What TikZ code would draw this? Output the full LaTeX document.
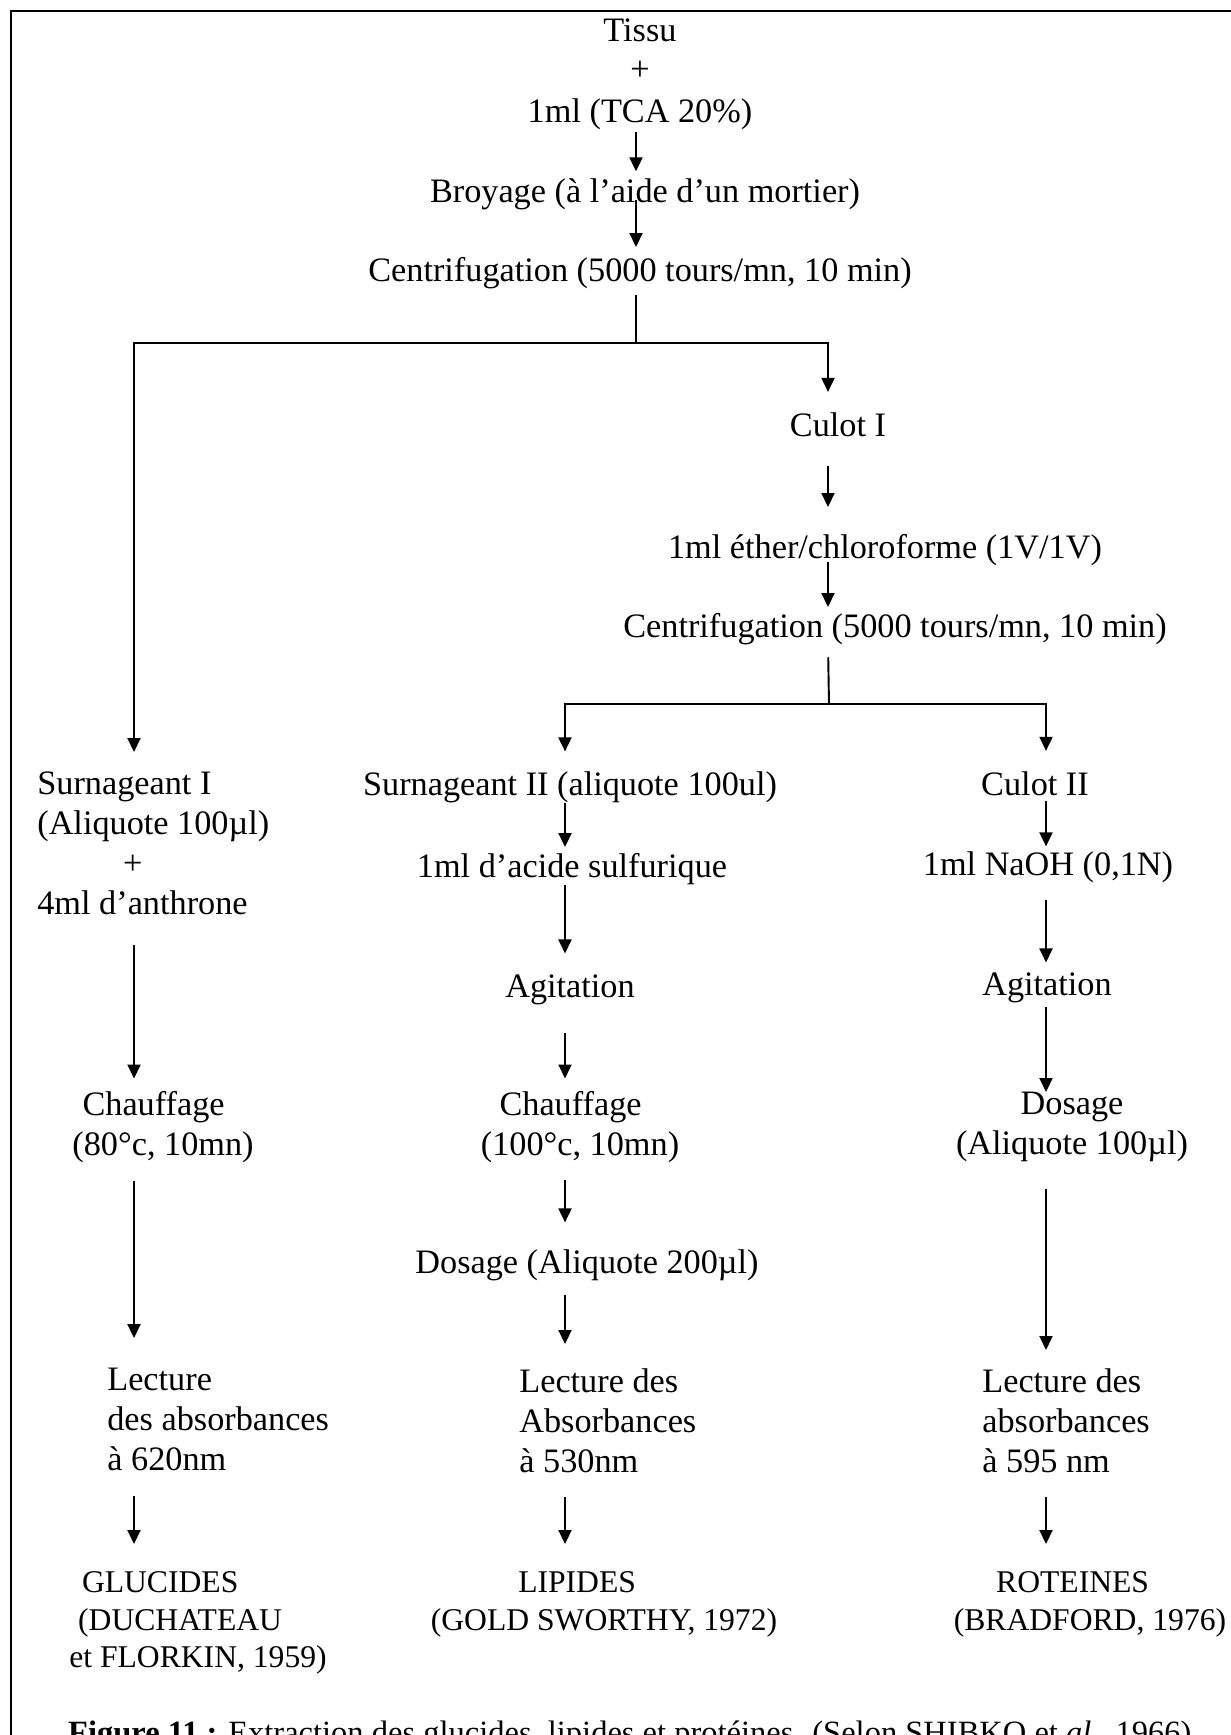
\documentclass[tikz,border=0pt]{standalone}
\usepackage{fontspec}
\setmainfont{Liberation Serif}
\usetikzlibrary{arrows.meta}
\tikzset{
	txt/.style={inner sep=0pt, font=\fontsize{19.5}{22.8}\selectfont},
	etape/.style={txt, anchor=base},
	bloc/.style={txt, align=center, anchor=north},
	blocg/.style={txt, align=left, anchor=north west},
	resultat/.style={font=\fontsize{18}{21.5}\selectfont},
	lien/.style={line width=1.1pt},
	fleche/.style={line width=1.1pt, -{Triangle[width=0.26cm,length=0.28cm]}},
}

\begin{document}
\begin{tikzpicture}[x=0.02cm, y=-0.02cm]
\useasboundingbox (0,0) rectangle (1231,1735);
%cadre
\draw[line width=1.5pt] (1240,11) -- (11,11) -- (11,1745);
%colonnes
\coordinate (c0) at (636,0);
\coordinate (c1) at (134,0);
\coordinate (c2) at (565,0);
\coordinate (c3) at (1046,0);
\coordinate (cu) at (828,0);
%
%haut
\node[etape] (tissu) at (640,41) {Tissu};
\node[txt] (plus) at (640,71) {+};
\node[etape] (tca) at (640,122) {1ml (TCA 20\%)};
\node[etape] (broyage) at (645,202) {Broyage (à l’aide d’un mortier)};
\node[etape] (cent1) at (640,281) {Centrifugation (5000 tours/mn, 10 min)};
\coordinate (split1) at (636,343);
\node[etape] (culot1) at (838,436) {Culot I};
\node[etape] (ether) at (885,558) {1ml éther/chloroforme (1V/1V)};
\node[etape] (cent2) at (895,637) {Centrifugation (5000 tours/mn, 10 min)};
\coordinate (split2) at (829,704);
%
%gauche
\node[blocg] (surn1) at (37,771) {Surnageant I\\(Aliquote 100µl)\\\hspace*{2.5em}+\\4ml d’anthrone};
\node[bloc] (chauf1) at (163,1091) {Chauffage\kern0.55em\\(80°c, 10mn)};
\node[blocg] (lect1) at (107,1368) {Lecture\\des absorbances\\à 620nm};
\node[blocg, resultat] (gluc) at (69,1571) {\hspace*{0.4em}GLUCIDES\\\hspace*{0.28em}(DUCHATEAU\\et FLORKIN, 1959)};
%
%milieu
\node[etape] (surn2) at (570,795) {Surnageant II (aliquote 100ul)};
\node[etape] (acide) at (572,877) {1ml d’acide sulfurique};
\node[etape] (agit2) at (570,997) {Agitation};
\node[bloc] (chauf2) at (580,1091) {Chauffage\kern0.55em\\(100°c, 10mn)};
\node[etape] (dos2) at (587,1273) {Dosage (Aliquote 200µl)};
\node[blocg] (lect2) at (519,1368) {Lecture des\\Absorbances\\à 530nm};
\node[bloc, resultat] (lip) at (604,1571) {LIPIDES\kern1.7em\\(GOLD SWORTHY, 1972)};
%
%droite
\node[etape] (culot2) at (1035,795) {Culot II};
\node[etape] (naoh) at (1048,875) {1ml NaOH (0,1N)};
\node[etape] (agit3) at (1047,995) {Agitation};
\node[bloc] (dos3) at (1072,1092) {Dosage\\(Aliquote 100µl)};
\node[blocg] (lect3) at (982,1368) {Lecture des\\absorbances\\à 595 nm};
\node[bloc, resultat] (prot) at (1090,1571) {ROTEINES\kern1.1em\\(BRADFORD, 1976)};
%
\node[inner sep=0pt, anchor=base east, font=\fontsize{18.5}{22}\selectfont] (legende) at (1200,1743)
	{\textbf{Figure 11 :} Extraction des glucides, lipides et protéines.  (Selon SHIBKO et \textit{al.}, 1966).};
%
%fleches haut
\draw[fleche, shorten <=0.04cm, shorten >=0.13cm] (c0 |- tca.south) -- (c0 |- broyage.north);
\draw[fleche, shorten <=-0.19cm, shorten >=0.19cm] (c0 |- broyage.south) -- (c0 |- cent1.north);
\draw[lien, shorten <=0.13cm] (c0 |- cent1.south) -- (split1);
\draw[fleche, shorten >=0.38cm] (split1) -| (c1 |- surn1.north);
\draw[fleche, shorten >=0.4cm] (split1) -| (cu |- culot1.north);
\draw[fleche, shorten <=0.58cm, shorten >=0.53cm] (cu |- culot1.south) -- (cu |- ether.north);
\draw[fleche, shorten <=-0.08cm, shorten >=0.11cm] (cu |- ether.south) -- (cu |- cent2.north);
\draw[lien, shorten <=0.25cm] (cu |- cent2.south) -- (split2);
\draw[fleche, shorten >=0.39cm] (split2) -| (c2 |- surn2.north);
\draw[fleche, shorten >=0.4cm] (split2) -| (c3 |- culot2.north);
%
%fleches gauche
\draw[fleche, shorten <=0.6cm, shorten >=0.25cm] (c1 |- surn1.south) -- (c1 |- chauf1.north);
\draw[fleche, shorten <=0.36cm, shorten >=0.6cm] (c1 |- chauf1.south) -- (c1 |- lect1.north);
\draw[fleche, shorten <=0.48cm, shorten >=0.54cm] (c1 |- lect1.south) -- (c1 |- gluc.north);
%
%fleches milieu
\draw[fleche, shorten >=0.11cm] (c2 |- surn2.south) -- (c2 |- acide.north);
\draw[fleche, shorten >=0.41cm] (c2 |- acide.south) -- (c2 |- agit2.north);
\draw[fleche, shorten <=0.57cm, shorten >=0.25cm] (c2 |- agit2.south) -- (c2 |- chauf2.north);
\draw[fleche, shorten <=0.34cm, shorten >=0.53cm] (c2 |- chauf2.south) -- (c2 |- dos2.north);
\draw[fleche, shorten <=0.29cm, shorten >=0.48cm] (c2 |- dos2.south) -- (c2 |- lect2.north);
\draw[fleche, shorten <=0.48cm, shorten >=0.54cm] (c2 |- lect2.south) -- (c2 |- lip.north);
%
%fleches droite
\draw[fleche, shorten <=0.1cm, shorten >=0.09cm] (c3 |- culot2.south) -- (c3 |- naoh.north);
\draw[fleche, shorten <=0.34cm, shorten >=0.19cm] (c3 |- naoh.south) -- (c3 |- agit3.north);
\draw[fleche, shorten <=0.09cm] (c3 |- agit3.south) -- (c3 |- dos3.north);
\draw[fleche, shorten <=0.52cm, shorten >=0.36cm] (c3 |- dos3.south) -- (c3 |- lect3.north);
\draw[fleche, shorten <=0.48cm, shorten >=0.54cm] (c3 |- lect3.south) -- (c3 |- prot.north);
\end{tikzpicture}
\end{document}
